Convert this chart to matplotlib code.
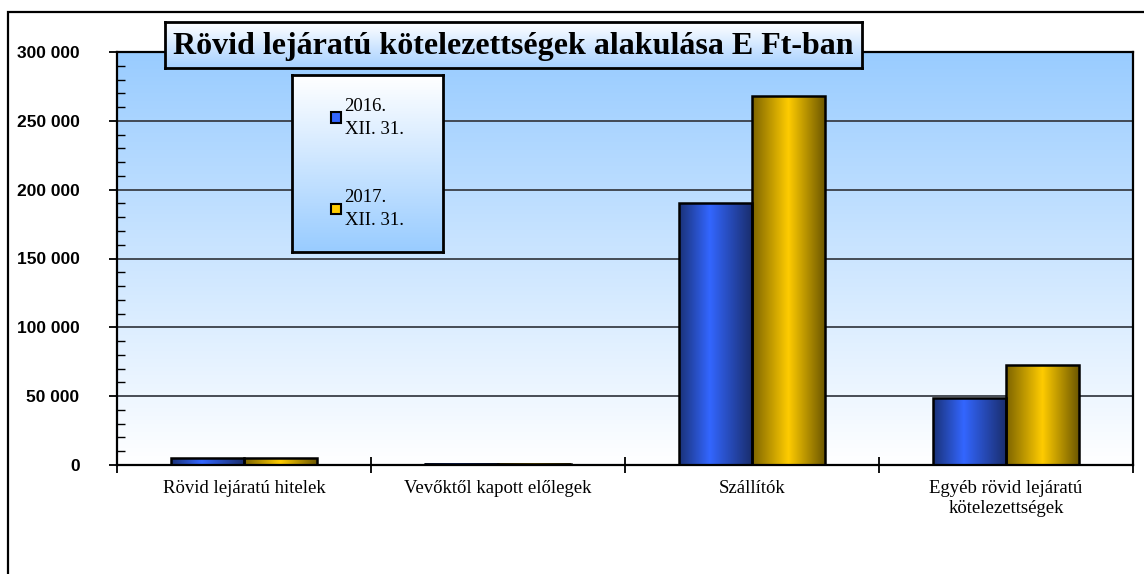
import numpy as np
import matplotlib
matplotlib.use("Agg")
import matplotlib.pyplot as plt
from matplotlib.colors import LinearSegmentedColormap
from matplotlib.patches import Rectangle, Patch

# data
categories = ["Rövid lejáratú hitelek", "Vevőktől kapott előlegek",
              "Szállítók", "Egyéb rövid lejáratú\nkötelezettségek"]
series_labels = ["2016.\nXII. 31.", "2017.\nXII. 31."]
values_2016 = [5000, 800, 190000, 48500]
values_2017 = [5000, 800, 268000, 72500]
yticks = [0, 50000, 100000, 150000, 200000, 250000, 300000]
ytick_labels = ["0", "50 000", "100 000", "150 000", "200 000", "250 000", "300 000"]
title = "Rövid lejáratú kötelezettségek alakulása E Ft-ban"

W, H = 1144, 574
serif = "Liberation Serif"
sans = "Liberation Sans"

fig = plt.figure(figsize=(W / 100, H / 100), dpi=100)
fig.patch.set_facecolor("white")

# outer frame (cut off at right and bottom)
fig.add_artist(Rectangle((8 / W, -0.1), 1.2, 1 - 12 / H + 0.1, transform=fig.transFigure,
                         fill=False, edgecolor="black", lw=1.6))

ax = fig.add_axes([117 / W, 1 - 465 / H, 1016 / W, 413 / H])

# background gradient: light blue top -> white bottom
bg = LinearSegmentedColormap.from_list("bg", ["#ffffff", "#99ccff"])
ax.imshow(np.linspace(0, 1, 256).reshape(-1, 1)[::-1], cmap=bg, aspect="auto",
          extent=[0, 1, 0, 1], transform=ax.transAxes, zorder=0)

x = np.arange(len(categories))
w = 0.287
b1 = ax.bar(x - w / 2, values_2016, w, facecolor="none", edgecolor="black", lw=1.8, zorder=3)
b2 = ax.bar(x + w / 2, values_2017, w, facecolor="none", edgecolor="black", lw=1.8, zorder=3)

blue_cm = LinearSegmentedColormap.from_list("blue", [(0, "#1a3278"), (0.42, "#3366ff"), (1, "#1a2e6e")])
gold_cm = LinearSegmentedColormap.from_list("gold", [(0, "#7d6400"), (0.5, "#ffcc00"), (1, "#6e5800")])
grad = np.linspace(0, 1, 128).reshape(1, -1)
for bars, cm in ((b1, blue_cm), (b2, gold_cm)):
    for r in bars:
        x0, y0 = r.get_x(), r.get_y()
        ax.imshow(grad, cmap=cm, aspect="auto", zorder=2,
                  extent=[x0, x0 + r.get_width(), y0, y0 + r.get_height()])

ax.set_xlim(-0.5, len(categories) - 0.5)
ax.set_ylim(0, 300000)

# gridlines
ax.set_yticks(yticks)
ax.set_yticklabels(ytick_labels, fontsize=12.5, fontweight="bold", family=sans)
ax.set_yticks(np.arange(0, 300001, 10000), minor=True)
ax.yaxis.grid(True, which="major", color="#3a3f48", lw=1.3, zorder=1)
ax.set_axisbelow(True)
ax.tick_params(axis="y", which="major", direction="out", length=6, width=1.3, pad=21)
ax.tick_params(axis="y", which="minor", direction="in", length=6, width=1.0)

# x: ticks at group borders, labels at group centres
ax.set_xticks(np.arange(-0.5, len(categories), 1.0))
ax.set_xticklabels([])
ax.set_xticks(x, minor=True)
ax.set_xticklabels(categories, minor=True, fontsize=13.5, family=serif, linespacing=1.2)
ax.tick_params(axis="x", which="major", direction="inout", length=12, width=1.3)
ax.tick_params(axis="x", which="minor", length=0, pad=11)

for s in ax.spines.values():
    s.set_color("black")
    s.set_linewidth(1.6)

# title box
tax = fig.add_axes([165 / W, 1 - 68 / H, 697 / W, 46 / H])
tcm = LinearSegmentedColormap.from_list("t", ["#ffffff", "#a6d0ff"])
tax.imshow(np.linspace(0, 1, 64).reshape(-1, 1), cmap=tcm, aspect="auto", extent=[0, 1, 0, 1])
tax.set_xlim(0, 1)
tax.set_ylim(0, 1)
tax.set_xticks([])
tax.set_yticks([])
for s in tax.spines.values():
    s.set_linewidth(2)
tax.text(0.5, 0.47, title, ha="center", va="center", fontsize=23, fontweight="bold", family=serif)

# legend box
lax = fig.add_axes([292 / W, 1 - 252 / H, 151 / W, 177 / H])
lcm = LinearSegmentedColormap.from_list("l", ["#ffffff", "#99ccff"])
lax.imshow(np.linspace(0, 1, 64).reshape(-1, 1), cmap=lcm, aspect="auto", extent=[0, 1, 0, 1])
lax.set_xlim(0, 1)
lax.set_ylim(0, 1)
lax.set_xticks([])
lax.set_yticks([])
for s in lax.spines.values():
    s.set_linewidth(2)
handles = [Patch(facecolor="#3366ff", edgecolor="black", lw=1.5),
           Patch(facecolor="#ffcc00", edgecolor="black", lw=1.5)]
leg = lax.legend(handles, series_labels, loc="center", frameon=False,
                 prop={"family": serif, "size": 13.5}, handlelength=0.5, handleheight=0.5,
                 handletextpad=0.2, labelspacing=2.7)
for t in leg.get_texts():
    t.set_linespacing(1.5)

fig.savefig("out.png", dpi=100)
